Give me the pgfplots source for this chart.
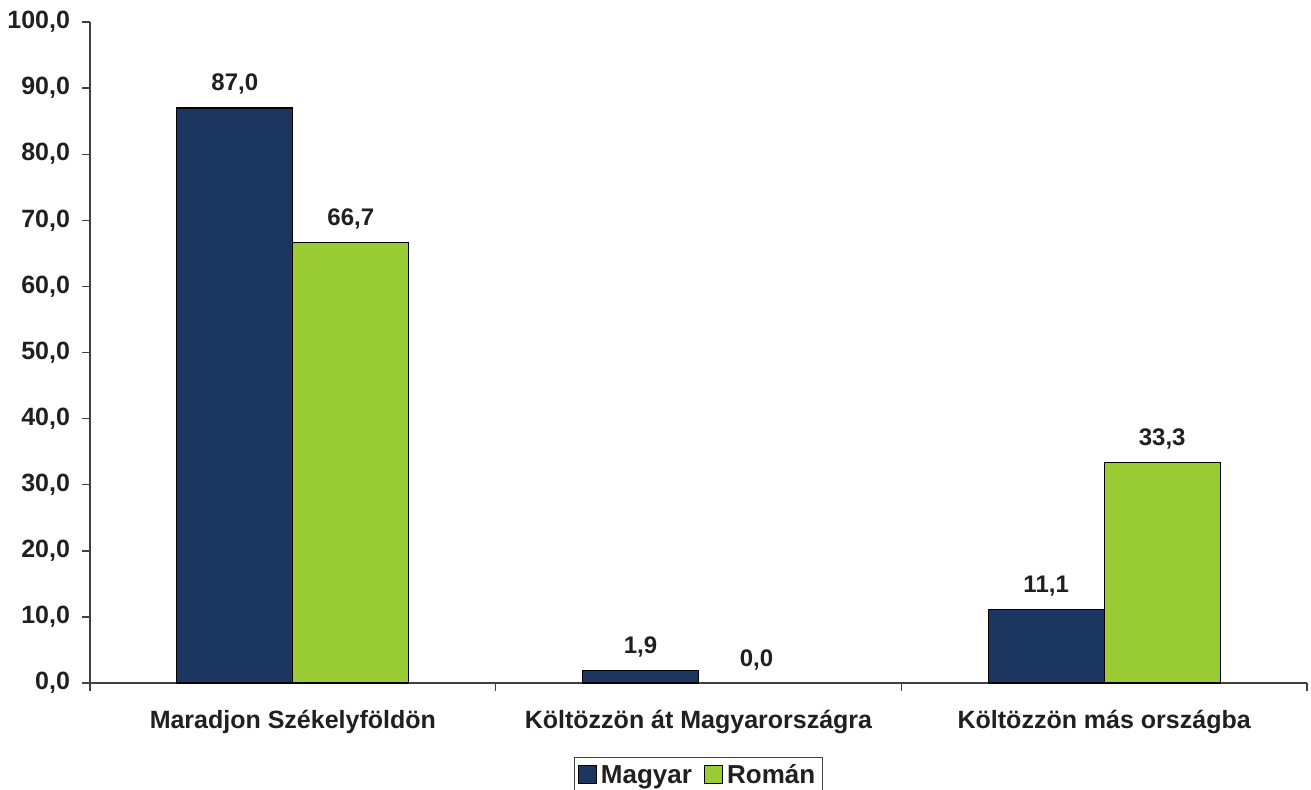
\documentclass[border=0pt]{standalone}
\usepackage{fontspec}
\setmainfont{Liberation Sans}
\usepackage{pgfplots}
\pgfplotsset{compat=1.18}
\definecolor{navy}{HTML}{1B365F}
\definecolor{lime}{HTML}{99CC33}
\definecolor{txt}{HTML}{231F20}
\definecolor{axc}{HTML}{404040}
\begin{document}
\begin{tikzpicture}
\begin{axis}[name=ax, scale only axis, width=608.5pt, height=330.5pt,
  ybar=0pt, bar width=58pt,
  xmin=-0.5, xmax=2.5, ymin=0, ymax=100,
  axis lines*=left, axis line style={axc, line width=0.7pt},
  tick align=outside, major tick length=4pt,
  tick style={axc, line width=0.7pt},
  xtick={-0.5,0.5,1.5,2.5}, xticklabels={},
  extra x ticks={0,1,2},
  extra x tick labels={Maradjon Székelyföldön, Költözzön át Magyarországra, Költözzön más országba},
  extra x tick style={major tick length=0pt},
  xticklabel style={font=\fontsize{12.5}{14}\selectfont\bfseries, text=txt, yshift=-10pt},
  ytick={0,10,...,100},
  scaled y ticks=false,
  yticklabel style={font=\fontsize{12.5}{14}\selectfont\bfseries, text=txt, xshift=-2.5pt,
    /pgf/number format/fixed, /pgf/number format/fixed zerofill,
    /pgf/number format/precision=1, /pgf/number format/use comma,
    /pgf/number format/assume math mode=true},
  nodes near coords={\pgfmathprintnumber[fixed,fixed zerofill,precision=1,use comma,assume math mode=true]{\pgfplotspointmeta}},
  nodes near coords style={font=\fontsize{12}{14}\selectfont\bfseries, text=txt, yshift=3pt},
  legend columns=2,
  legend style={at={(0.5,0)}, anchor=north, yshift=-37pt, draw=axc, line width=0.6pt,
    font=\fontsize{13}{15}\selectfont\bfseries, text=txt, inner sep=1.5pt,
    /tikz/every even column/.append style={column sep=4pt}},
  legend image code/.code={\draw[#1, draw=black, line width=0.6pt] (0pt,-4pt) rectangle (9pt,5pt);},
]
\addplot[fill=navy, draw=black, line width=0.6pt, bar shift=-29pt] coordinates {(0,87.0) (1,1.9) (2,11.1)};
\addplot[fill=lime, draw=black, line width=0.6pt, bar shift=29pt] coordinates {(0,66.7) (2,33.3)};
\addplot[draw=none, fill=none, bar shift=29pt, forget plot] coordinates {(1,0.0)};
\legend{Magyar, Román}
\end{axis}
\pgfresetboundingbox
\path ([xshift=-45pt,yshift=-53pt]ax.south west) rectangle ([xshift=2pt,yshift=11pt]ax.north east);
\end{tikzpicture}
\end{document}
